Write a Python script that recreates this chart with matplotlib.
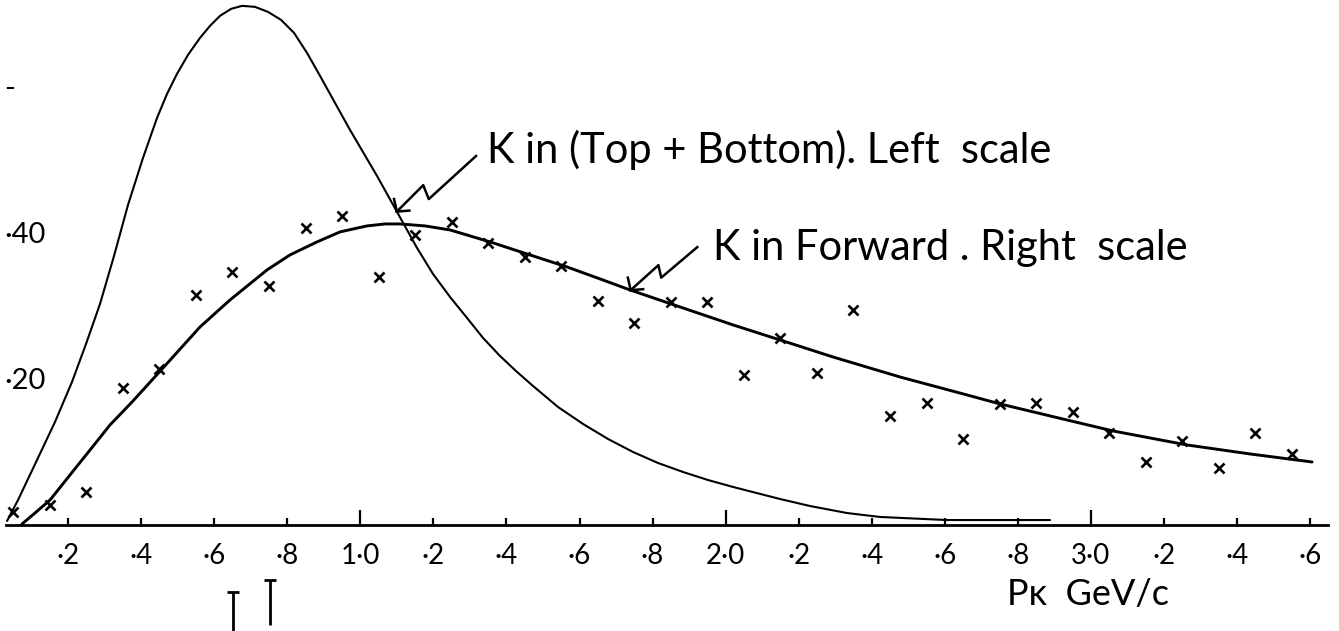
import numpy as np
import matplotlib
matplotlib.use("Agg")
import matplotlib.pyplot as plt
import matplotlib.transforms as mtransforms

# K in (Top + Bottom), left scale
tb_p = [0.0329, 0.0630, 0.1150, 0.1642, 0.2108, 0.2491, 0.2874, 0.3258,
        0.3641, 0.4051, 0.4435, 0.4709, 0.4982, 0.5283, 0.5612, 0.5886,
        0.6159, 0.6460, 0.6762, 0.7117, 0.7473, 0.7829, 0.8185, 0.8541,
        0.8897, 0.9307, 0.9718, 1.0457, 1.1005, 1.1552, 1.1990, 1.2456,
        1.2921, 1.3359, 1.3824, 1.4290, 1.4728, 1.5412, 1.6096, 1.6781,
        1.7465, 1.8150, 1.8834, 1.9518, 2.0203, 2.1489, 2.2310, 2.3323,
        2.4227, 2.6061, 2.8881]
tb_n = [0.0055, 0.0342, 0.0890, 0.1411, 0.1959, 0.2479, 0.3027, 0.3685,
        0.4384, 0.5027, 0.5575, 0.5904, 0.6178, 0.6438, 0.6671, 0.6836,
        0.6973, 0.7068, 0.7110, 0.7096, 0.7027, 0.6918, 0.6740, 0.6466,
        0.6151, 0.5781, 0.5411, 0.4781, 0.4288, 0.3795, 0.3438, 0.3123,
        0.2836, 0.2562, 0.2315, 0.2096, 0.1904, 0.1616, 0.1384, 0.1178,
        0.1000, 0.0849, 0.0726, 0.0616, 0.0521, 0.0356, 0.0260, 0.0164,
        0.0110, 0.0068, 0.0068]

# K in Forward, right scale: fitted curve
fw_p = [0.0739, 0.1095, 0.1506, 0.2053, 0.2601, 0.3148, 0.3778, 0.4599,
        0.5612, 0.6433, 0.7446, 0.8076, 0.8815, 0.9444, 1.0183, 1.0676,
        1.1087, 1.1771, 1.2456, 1.3551, 1.4728, 1.5658, 1.6562, 1.7383,
        1.8670, 2.0203, 2.1571, 2.2940, 2.4774, 2.6608, 2.7511, 2.9346,
        3.0605, 3.2631, 3.4355, 3.6053]
fw_n = [0.0014, 0.0164, 0.0342, 0.0685, 0.1027, 0.1370, 0.1699, 0.2151,
        0.2712, 0.3082, 0.3493, 0.3699, 0.3877, 0.4014, 0.4096, 0.4123,
        0.4123, 0.4096, 0.4041, 0.3877, 0.3685, 0.3534, 0.3370, 0.3219,
        0.3000, 0.2740, 0.2521, 0.2301, 0.2027, 0.1781, 0.1658, 0.1438,
        0.1288, 0.1096, 0.0973, 0.0863]

# K in Forward, measured bins
pts_p = [0.05, 0.15, 0.25, 0.35, 0.45, 0.55, 0.65, 0.75, 0.85, 0.95,
         1.05, 1.15, 1.25, 1.35, 1.45, 1.55, 1.65, 1.75, 1.85, 1.95,
         2.05, 2.15, 2.25, 2.35, 2.45, 2.55, 2.65, 2.75, 2.85, 2.95,
         3.05, 3.15, 3.25, 3.35, 3.45, 3.55]
pts_n = [0.018, 0.027, 0.045, 0.188, 0.214, 0.315, 0.347, 0.327, 0.407, 0.423,
         0.340, 0.397, 0.415, 0.386, 0.367, 0.355, 0.307, 0.277, 0.305, 0.305,
         0.205, 0.256, 0.208, 0.295, 0.149, 0.167, 0.118, 0.166, 0.167, 0.155,
         0.126, 0.086, 0.115, 0.078, 0.126, 0.097]

# momentum marks drawn under the axis
mark_p = [0.652, 0.753]
mark_top = [-0.092, -0.075]
mark_bot = [-0.150, -0.137]

major_ticks = [1.0, 2.0, 3.0]
major_labels = ["1·0", "2·0", "3·0"]
minor_ticks = [0.2, 0.4, 0.6, 0.8, 1.2, 1.4, 1.6, 1.8, 2.2, 2.4, 2.6, 2.8,
               3.2, 3.4, 3.6]
minor_labels = ["·2", "·4", "·6", "·8", "·2", "·4", "·6", "·8", "·2", "·4",
                "·6", "·8", "·2", "·4", "·6"]
y_ticks = [0.2, 0.4, 0.6]
y_labels = ["·20", "·40", "-"]

plt.rcParams["font.family"] = ["Lato", "DejaVu Sans"]

fig = plt.figure(figsize=(13.39, 6.31), dpi=100)
ax = fig.add_axes([0, 106 / 631, 1, 525 / 631])
ax.set_xlim(0.0137, 3.679)
ax.set_ylim(0, 0.719)

ax.plot(tb_p, tb_n, color="black", lw=1.5, solid_capstyle="round",
        solid_joinstyle="round")
ax.plot(fw_p, fw_n, color="black", lw=2.1, solid_capstyle="round",
        solid_joinstyle="round")
ax.plot(pts_p, pts_n, ls="none", marker="x", ms=7.5, mew=1.9, color="black")

# axes furniture
for side in ("top", "right", "left"):
    ax.spines[side].set_visible(False)
ax.spines["bottom"].set_linewidth(2.0)
ax.spines["bottom"].set_bounds(0.03, 3.65)

ax.set_xticks(major_ticks, major_labels)
ax.set_xticks(minor_ticks, minor_labels, minor=True)
ax.tick_params(axis="x", which="both", direction="in", width=1.6,
               labelsize=20, pad=13)
ax.tick_params(axis="x", which="major", length=11)
ax.tick_params(axis="x", which="minor", length=5)

ax.set_yticks(y_ticks, y_labels)
ax.tick_params(axis="y", length=0, pad=-3, labelsize=21)
for lbl in ax.get_yticklabels():
    lbl.set_horizontalalignment("left")

ax.text(2.77, -0.110, "Pκ  GeV/c", fontsize=26, ha="left", va="baseline",
        clip_on=False)

# the two marks below the axis
ax.vlines(mark_p, mark_bot, mark_top, color="black", lw=2.0, clip_on=False)
ax.plot(mark_p, mark_top, ls="none", marker="_", ms=9, mew=2.0,
        color="black", clip_on=False)


def bolt_arrow(tip, text, text_off, shape):
    """Zigzag pointer ending on a curve, with its caption."""
    tr = (mtransforms.Affine2D().scale(1 / 72) + fig.dpi_scale_trans
          + mtransforms.ScaledTranslation(tip[0], tip[1], ax.transData))
    sx, sy = zip(*shape)
    ax.plot(sx, sy, color="black", lw=1.8, transform=tr, clip_on=False)
    for hx, hy in [(-2.0, 9.0), (9.0, 0.7)]:
        ax.plot([0, hx], [0, hy], color="black", lw=1.8, transform=tr,
                clip_on=False)
    ax.annotate(text, xy=tip, xytext=text_off, textcoords="offset points",
                fontsize=30, ha="left", va="baseline")


tip_tb = (1.10, np.interp(1.10, tb_p, tb_n))
tip_fw = (1.74, np.interp(1.74, fw_p, fw_n))
bolt_arrow(tip_tb, "K in (Top + Bottom). Left  scale", (65, 35),
           [(57, 40), (23, 9), (19, 19), (0, 0)])
bolt_arrow(tip_fw, "K in Forward . Right  scale", (59, 22),
           [(48, 31), (22, 9), (20, 18), (0, 0)])

fig.savefig("out.png", dpi=100)
